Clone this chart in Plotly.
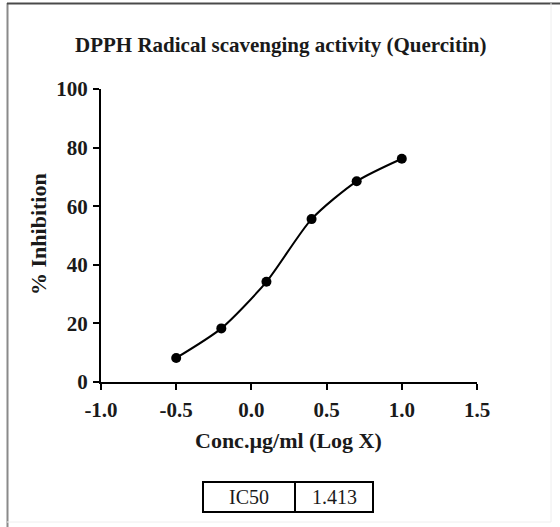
import plotly.graph_objects as go

# Data
log_conc = [-0.5, -0.2, 0.1, 0.4, 0.7, 1.0]
inhibition = [8.2, 18.3, 34.2, 55.6, 68.5, 76.2]
x_ticks = [-1.0, -0.5, 0.0, 0.5, 1.0, 1.5]
x_tick_labels = ["-1.0", "-0.5", "0.0", "0.5", "1.0", "1.5"]
y_ticks = [0, 20, 40, 60, 80, 100]
table_cells = ["IC50", "1.413"]

W, H = 560, 527
L, R, T, B = 101, 477, 89, 382  # plot area in pixels

def px(x):
    return (x - L) / (R - L)

def py(y):
    return (B - y) / (B - T)

SERIF = "Liberation Serif, Times New Roman, serif"
INK = "#1a1a1a"

fig = go.Figure()
fig.add_trace(go.Scatter(
    x=log_conc, y=inhibition, mode="lines+markers",
    line=dict(color="black", width=2, shape="spline", smoothing=0.7),
    marker=dict(color="black", size=10, symbol="circle"),
    showlegend=False, hoverinfo="skip",
))

axis_common = dict(
    showline=True, linecolor="black", linewidth=2,
    ticks="outside", ticklen=6, tickwidth=2, tickcolor="black",
    showgrid=False, zeroline=False,
    tickfont=dict(family=SERIF, size=21, color=INK, weight="bold"),
)

fig.update_layout(
    width=W, height=H,
    margin=dict(l=L, r=W - R, t=T, b=H - B),
    paper_bgcolor="white", plot_bgcolor="white",
    xaxis=dict(range=[-1.0, 1.5], tickvals=x_ticks, ticktext=x_tick_labels,
               ticklabelstandoff=2, **axis_common),
    yaxis=dict(range=[0, 100], tickvals=y_ticks, ticklabelstandoff=1,
               **axis_common),
)

def ann(text, x, y, size, bold=True, angle=0):
    return dict(text=text, x=px(x), y=py(y), xref="paper", yref="paper",
                showarrow=False, textangle=angle,
                font=dict(family=SERIF, size=size, color=INK,
                          weight="bold" if bold else "normal"),
                xanchor="center", yanchor="middle")

annotations = [
    ann("DPPH Radical scavenging activity (Quercitin)", 280, 45, 21),
    ann("% Inhibition", 38, 234, 22, angle=-90),
    ann("Conc.µg/ml (Log X)", 288, 440, 22),
    ann(table_cells[0], 249, 497, 20, bold=False),
    ann(table_cells[1], 334, 497, 20, bold=False),
]
fig.update_layout(annotations=annotations)

def shp(kind, x0, x1, y0, y1, color, width):
    return dict(type=kind, xref="paper", yref="paper",
                x0=px(x0), x1=px(x1), y0=py(y0), y1=py(y1),
                line=dict(color=color, width=width), layer="above")

shapes = [
    # outer image border
    shp("line", 7.5, 7.5, 3, 527, "#8a8a8a", 2),
    shp("line", 7, 560, 3.5, 3.5, "#4a4a4a", 2),
    shp("line", 551, 551, 3, 522, "#eeeeee", 1),
    shp("line", 7, 551, 522, 522, "#eeeeee", 1),
    # table
    shp("rect", 203, 373, 482, 512, "black", 2),
    shp("line", 295, 295, 482, 512, "black", 2),
]
fig.update_layout(shapes=shapes)

fig.write_html("out.html")
